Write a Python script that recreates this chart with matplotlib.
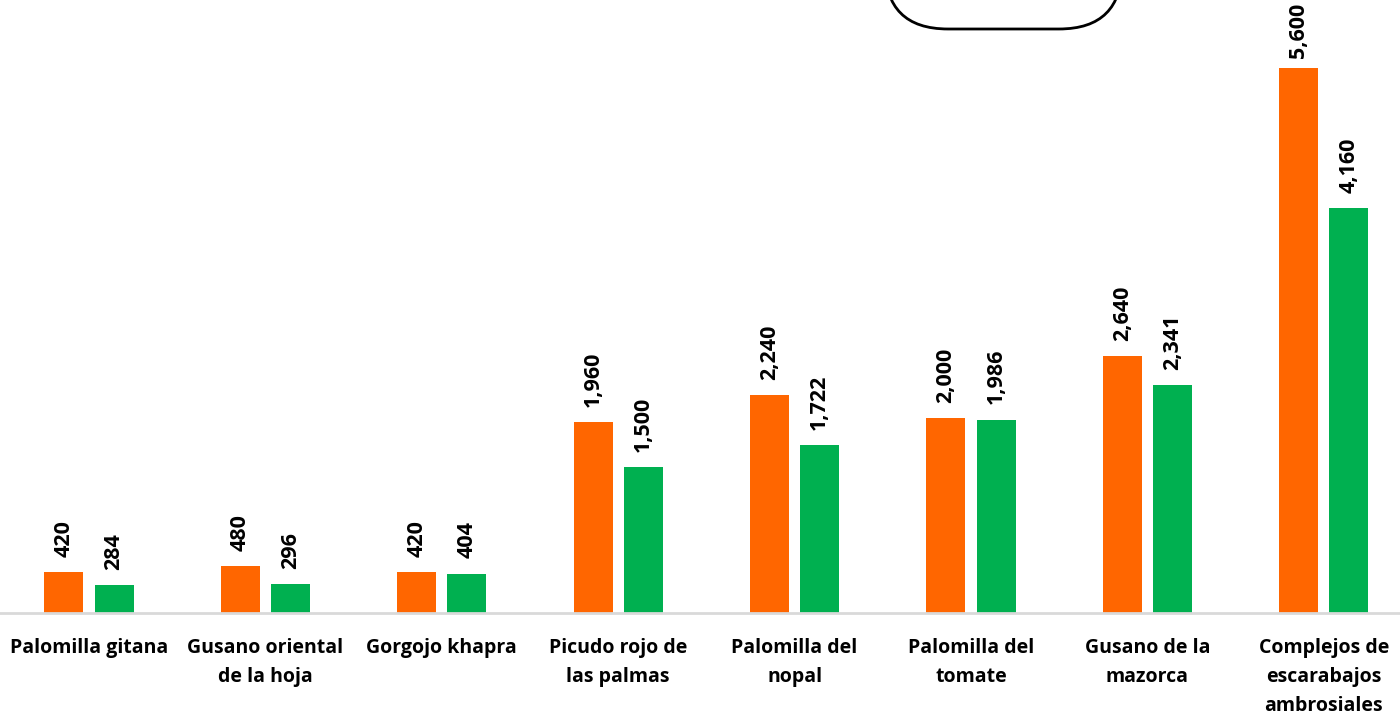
import matplotlib
matplotlib.use("Agg")
import matplotlib.pyplot as plt
from matplotlib.patches import FancyBboxPatch
import numpy as np

plt.rcParams['font.family'] = ['Open Sans', 'DejaVu Sans']

categories = ["Palomilla gitana", "Gusano oriental\nde la hoja", "Gorgojo khapra",
              "Picudo rojo de\nlas palmas", "Palomilla del\nnopal", "Palomilla del\ntomate",
              "Gusano de la\nmazorca", "Complejos de\nescarabajos\nambrosiales"]
serie_a = [420, 480, 420, 1960, 2240, 2000, 2640, 5600]
serie_b = [284, 296, 404, 1500, 1722, 1986, 2341, 4160]

W, H = 1400, 715
fig = plt.figure(figsize=(W/100, H/100), dpi=100)
base_px = 613
ax = fig.add_axes([0, (H - base_px)/H, 1, base_px/H])

x = np.arange(len(categories))
off = 0.142
bw = 0.221
ba = ax.bar(x - off, serie_a, bw, color="#FF6600")
bb = ax.bar(x + off, serie_b, bw, color="#00B050")

ax.set_xlim(-0.5045, 7.432)
ax.set_ylim(0, 6299)
for s in ["top", "right", "left"]:
    ax.spines[s].set_visible(False)
ax.spines["bottom"].set_color("#D9D9D9")
ax.spines["bottom"].set_linewidth(2)
ax.set_yticks([])
ax.set_xticks(x)
ax.set_xticklabels(categories, fontsize=14, fontweight="bold", linespacing=1.6, va="top")
ax.tick_params(axis="x", length=0, pad=18)

labels = []
for bars, vals in ((ba, serie_a), (bb, serie_b)):
    for r, v in zip(bars, vals):
        t = ax.annotate(f"{v:,}", (r.get_x() + r.get_width()/2, v), xytext=(0, 11),
                        textcoords="offset points", rotation=90, ha="center", va="bottom",
                        fontsize=15.5, fontweight="bold")
        labels.append(t)

# keep labels inside the figure (as the original does for the tallest bar)
fig.canvas.draw()
renderer = fig.canvas.get_renderer()
for t in labels:
    bb_ = t.get_window_extent(renderer)
    top_limit = H - 3
    if bb_.y1 > top_limit:
        shift_px = bb_.y1 - top_limit
        ox, oy = t.xyann
        t.xyann = (ox, oy - shift_px * 72 / 100)

box = FancyBboxPatch((885/W, 1 - 29/H), (1122-885)/W, 0.2,
                     boxstyle="round,pad=0,rounding_size=0.045",
                     transform=fig.transFigure, facecolor="white", edgecolor="black",
                     linewidth=2, mutation_aspect=W/H)
fig.patches.append(box)

fig.savefig("out.png", dpi=100)
